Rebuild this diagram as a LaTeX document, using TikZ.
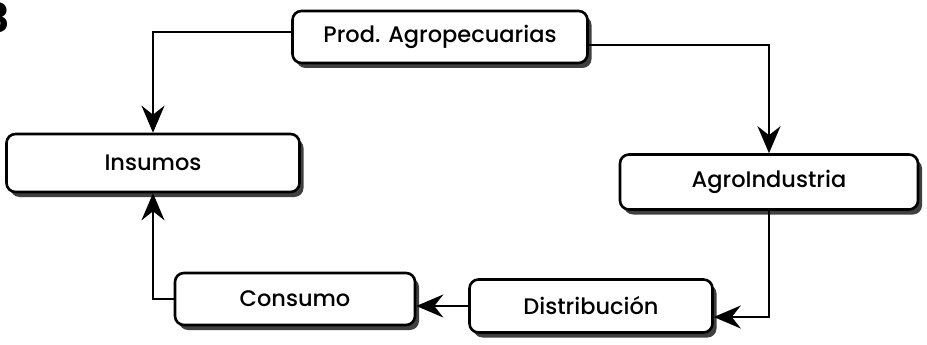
\documentclass[tikz,border=0pt]{standalone}
\usepackage{fontspec}
\setmainfont{Poppins}
\newfontfamily\boxfont{Poppins Medium}
\usetikzlibrary{shadows,arrows.meta}
\begin{document}
\begin{tikzpicture}[x=1pt,y=-1pt,
  box/.style={draw, line width=2.6pt, rounded corners=9pt, fill=white,
    inner sep=0pt, font=\boxfont\fontsize{22.5}{22.5}\selectfont,
    drop shadow={shadow xshift=4pt, shadow yshift=-5pt, fill=black!75, opacity=1}},
  conn/.style={line width=2.2pt},
  arr/.style={conn, -{Stealth[length=27pt, width=23pt, inset=9pt]}}]
\useasboundingbox (0,0) rectangle (927,345);
\node[font=\bfseries\fontsize{40}{40}\selectfont, anchor=east] (num) at (13,18) {3};
\node[box, minimum width=295pt, minimum height=52pt] (prod) at (440,37) {Prod. Agropecuarias};
\node[box, minimum width=293pt, minimum height=58pt] (ins) at (153,163) {Insumos};
\node[box, minimum width=298pt, minimum height=55pt] (agro) at (769,182) {AgroIndustria};
\node[box, minimum width=243pt, minimum height=53pt] (dist) at (591,306) {Distribución};
\node[box, minimum width=240pt, minimum height=52pt] (cons) at (295,299) {Consumo};
\draw[arr] ([yshift=5pt]prod.west) -| (ins.north);
\draw[arr] ([yshift=-8pt]prod.east) -| (agro.north);
\draw[arr] (agro.south) |- ([yshift=-11pt]dist.east);
\draw[arr] (dist.west) -- (cons.east |- dist.west);
\draw[arr] (cons.west) -| (ins.south);
\end{tikzpicture}
\end{document}
